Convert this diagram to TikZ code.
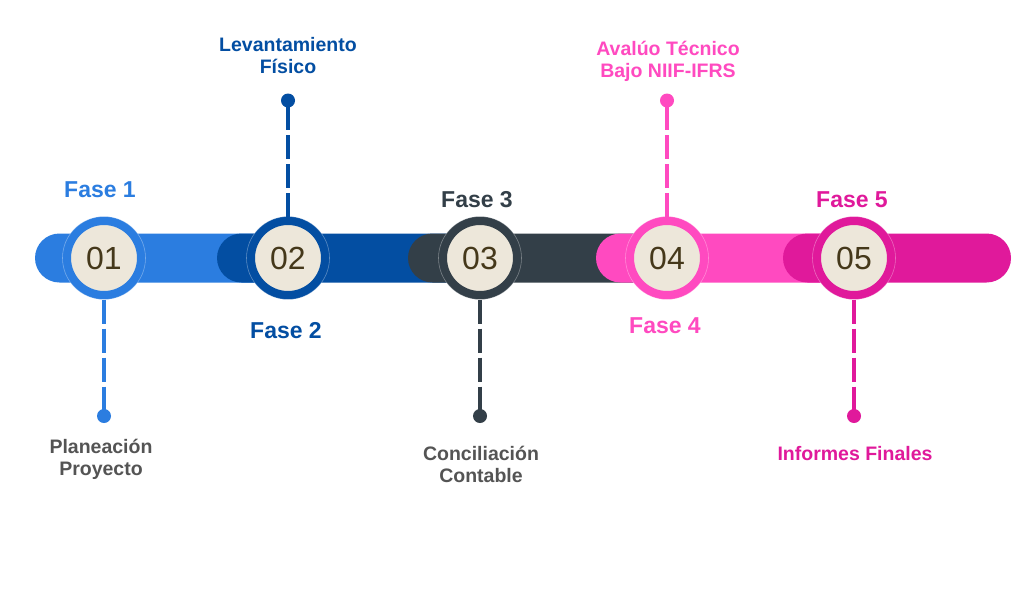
\documentclass[tikz,border=0pt]{standalone}
\usepackage{fontspec}
\setmainfont{Liberation Sans}
\usepackage{tikz}

\definecolor{faseA}{HTML}{2B7DE0}
\definecolor{faseB}{HTML}{034EA2}
\definecolor{faseC}{HTML}{333F48}
\definecolor{faseD}{HTML}{FF4AC0}
\definecolor{faseE}{HTML}{E0199B}
\definecolor{beige}{HTML}{EDE7DA}
\definecolor{numtext}{HTML}{45381A}
\definecolor{graytext}{HTML}{545454}

\tikzset{
	seg/.style={rounded corners=24.5pt},
	phase/.style={circle, draw=#1, fill=beige, line width=8.5pt, minimum size=74.5pt, inner sep=0pt,
		text=numtext, font=\fontsize{32}{38}\selectfont},
	rim/.style={white, opacity=.35, line width=.6pt},
	dot/.style={circle, fill=#1, minimum size=14pt, inner sep=0pt},
	conn/.style={draw=#1, line width=4pt, dash pattern=on 24pt off 5pt},
	fase/.style={anchor=base, text=#1, font=\fontsize{23}{27}\selectfont\bfseries},
	info/.style={anchor=base, align=center, text=#1, font=\fontsize{19.5}{22.5}\selectfont\bfseries}
}

\begin{document}
\begin{tikzpicture}[x=1pt, y=-1pt]

	\useasboundingbox[fill=white] (0,0) rectangle (1024,589);

	\fill[faseA, seg] (35,233.5) rectangle (300,282.5);
	\fill[faseB, seg] (217,233.5) rectangle (490,282.5);
	\fill[faseC, seg] (408,233.5) rectangle (680,282.5);
	\fill[faseD, seg] (596,233.5) rectangle (870,282.5);
	\fill[faseE, seg] (783,233.5) rectangle (1011,282.5);

	\node[phase=faseA] (p1) at (104,258) {01};
	\node[phase=faseB] (p2) at (288,258) {02};
	\node[phase=faseC] (p3) at (480,258) {03};
	\node[phase=faseD] (p4) at (667,258) {04};
	\node[phase=faseE] (p5) at (854,258) {05};

	\draw[rim] (p1.center) circle (41.5pt);
	\draw[rim] (p2.center) circle (41.5pt);
	\draw[rim] (p3.center) circle (41.5pt);
	\draw[rim] (p4.center) circle (41.5pt);
	\draw[rim] (p5.center) circle (41.5pt);

	\node[dot=faseA] (d1) at (104,416) {};
	\node[dot=faseB] (d2) at (288,100.5) {};
	\node[dot=faseC] (d3) at (480,416) {};
	\node[dot=faseD] (d4) at (667,100.5) {};
	\node[dot=faseE] (d5) at (854,416) {};

	\draw[conn=faseA] (p1.south) -- (d1.center);
	\draw[conn=faseB] (p2.north) -- (d2.center);
	\draw[conn=faseC] (p3.south) -- (d3.center);
	\draw[conn=faseD] (p4.north) -- (d4.center);
	\draw[conn=faseE] (p5.south) -- (d5.center);

	\node[fase=faseA] (f1) at (100,197) {Fase 1};
	\node[fase=faseB] (f2) at (286,338) {Fase 2};
	\node[fase=faseC] (f3) at (477,207) {Fase 3};
	\node[fase=faseD] (f4) at (665,333) {Fase 4};
	\node[fase=faseE] (f5) at (852,207) {Fase 5};

	% two-line labels sit on the baseline of their last line
	\node[info=graytext] (t1) at (101,475.5) {Planeación\\Proyecto};
	\node[info=faseB] (t2) at (288,73.5) {Levantamiento\\Físico};
	\node[info=graytext] (t3) at (481,482.5) {Conciliación\\Contable};
	\node[info=faseD] (t4) at (668,77.5) {Avalúo Técnico\\Bajo NIIF-IFRS};
	\node[info=faseE] (t5) at (855,460) {Informes Finales};

\end{tikzpicture}
\end{document}
